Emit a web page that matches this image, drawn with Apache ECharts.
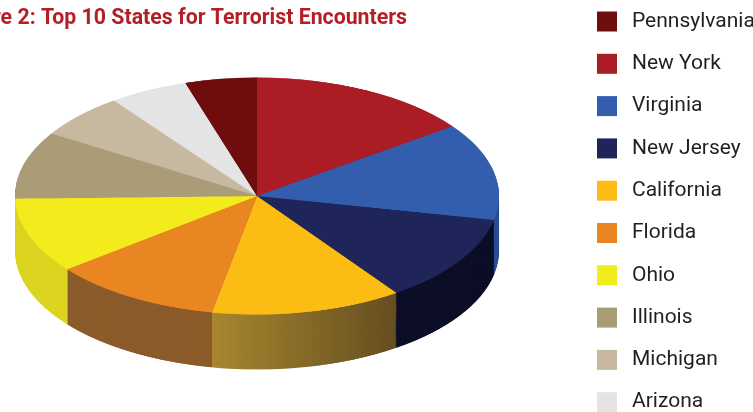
<!DOCTYPE html>
<html>
<head>
<meta charset="utf-8">
<script src="https://cdn.jsdelivr.net/npm/echarts@6/dist/echarts.min.js"></script>
<style>
  html, body { margin: 0; padding: 0; background: #ffffff; overflow: hidden; }
  #wrap { position: relative; width: 753px; height: 412px; overflow: hidden; background: #ffffff; }
  #main { position: absolute; left: 0; top: 0; width: 753px; height: 460px; }
  #pie { position: absolute; left: 0; top: 0; width: 753px; height: 841px; transform: scaleY(0.49); transform-origin: 0 0; }
</style>
</head>
<body>
<div id="wrap">
  <div id="main"></div>
  <div id="pie"></div>
</div>
<script>
// ---- data (clockwise from 12 o'clock) ----
const states = ['New York', 'Virginia', 'New Jersey', 'California', 'Florida', 'Ohio', 'Illinois', 'Michigan', 'Arizona', 'Pennsylvania'];
const values = [15.0, 13.3, 12.0, 12.8, 11.4, 10.3, 9.2, 6.1, 5.3, 4.8];
const legendOrder = ['Pennsylvania', 'New York', 'Virginia', 'New Jersey', 'California', 'Florida', 'Ohio', 'Illinois', 'Michigan', 'Arizona'];
const titleText = 'Figure 2: Top 10 States for Terrorist Encounters';

// ---- styles ----
const topColors = ['#ac1c24', '#335eae', '#1f2558', '#fbbd14', '#ea8622', '#f3eb1c', '#ab9c78', '#c6b9a0', '#e3e4e3', '#6e0c0e'];
const sideColors = [
  '#7a1419', '#2a4d92', '#0b0e26',
  { type: 'linear', x: 0, y: 0, x2: 1, y2: 0, colorStops: [{ offset: 0, color: '#a8872e' }, { offset: 1, color: '#654d20' }] },
  '#8b5b2a', '#dcd41f', '#8f8262', '#a89c84', '#c4c5c4', '#520708'
];

// ---- overlay chart: title + legend ----
const main = echarts.init(document.getElementById('main'), null, { renderer: 'canvas' });
main.setOption({
  backgroundColor: '#ffffff',
  animation: false,
  title: {
    text: titleText,
    right: 341,
    top: 3,
    textStyle: { fontFamily: 'Roboto', fontWeight: 'bold', fontSize: 21.3, color: '#b41f26' }
  },
  legend: {
    orient: 'vertical',
    left: 597,
    top: 11,
    padding: 0,
    itemWidth: 20,
    itemHeight: 20,
    itemGap: 21.3,
    icon: 'rect',
    data: legendOrder,
    textStyle: { fontFamily: 'Roboto', fontSize: 21, color: '#231f20', lineHeight: 20, padding: [0, 0, 0, 10] }
  },
  series: [{
    type: 'pie',
    center: [-500, -500],
    radius: 5,
    silent: true,
    label: { show: false },
    labelLine: { show: false },
    data: states.map((s, i) => ({ name: s, value: values[i], itemStyle: { color: topColors[i] } }))
  }]
});

// ---- squashed pie with stacked layers for depth ----
const pie = echarts.init(document.getElementById('pie'), null, { renderer: 'canvas' });
const cx = 257, cy = 400, R = 242, depth = 112, step = 2;
const series = [];
for (let off = depth; off > 0; off -= step) {
  series.push({
    type: 'pie',
    silent: true,
    center: [cx, cy + off],
    radius: R,
    startAngle: 90,
    clockwise: true,
    label: { show: false },
    labelLine: { show: false },
    itemStyle: { borderWidth: 0 },
    data: states.map((s, i) => ({ name: s, value: values[i], itemStyle: { color: sideColors[i] } }))
  });
}
series.push({
  type: 'pie',
  silent: true,
  center: [cx, cy],
  radius: R,
  startAngle: 90,
  clockwise: true,
  label: { show: false },
  labelLine: { show: false },
  itemStyle: { borderWidth: 0 },
  data: states.map((s, i) => ({ name: s, value: values[i], itemStyle: { color: topColors[i] } }))
});
pie.setOption({
  backgroundColor: 'transparent',
  animation: false,
  series: series
});
</script>
</body>
</html>
